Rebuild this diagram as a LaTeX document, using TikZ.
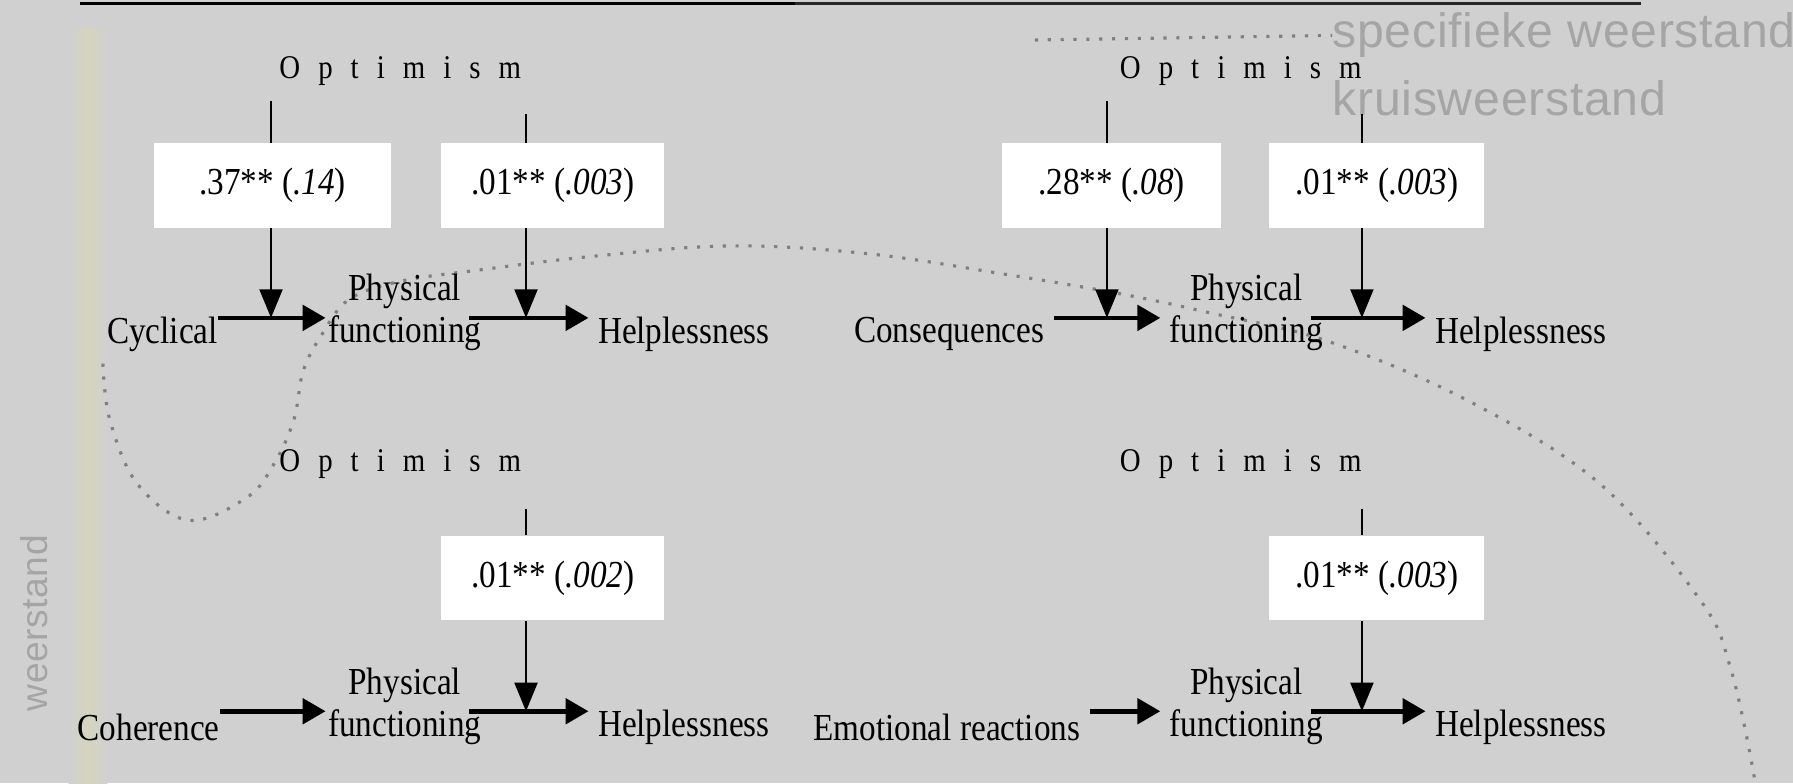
\documentclass[tikz,border=0pt]{standalone}
\usepackage{amsmath}
\usepackage{fontspec}
\setmainfont{Liberation Serif}[FakeStretch = 0.87]
\newfontfamily\spacedserif{Liberation Serif}[FakeStretch = 0.87, WordSpace = 2.5]
\newfontfamily\slidesans{Liberation Sans}[LetterSpace = 1.5]
\usepackage{tikz}
\usetikzlibrary{arrows.meta}

\definecolor{slidegray}{RGB}{208,208,208}
\definecolor{barcolor}{RGB}{212,212,190}
\definecolor{dotgray}{RGB}{128,128,128}
\definecolor{faintgray}{RGB}{165,165,165}

\begin{document}
\begin{tikzpicture}[x = 0.02cm, y = -0.02cm,
        txt/.style = {font = {\fontsize{19}{21}\selectfont}, black, inner sep = 0pt, align = center},
        opt/.style = {font = {\spacedserif\fontsize{16.5}{18}\selectfont}, black, inner sep = 0pt},
        coef/.style = {fill = white, inner sep = 0pt, minimum height = 1.48cm, font = {\fontsize{19}{21}\selectfont}},
        flow/.style = {line width = 0.08cm, -{Triangle[length = 0.4cm, width = 0.44cm]}, shorten <= 0.16cm, shorten >= 0.16cm},
        modline/.style = {line width = 0.045cm},
        modarrow/.style = {line width = 0.045cm, -{Triangle[length = 0.5cm, width = 0.4cm]}},
        dots/.style = {dotgray, line width = 0.055cm, dash pattern = on 0.055cm off 0.17cm},
        faint/.style = {font = {\slidesans\fontsize{24}{26}\selectfont}, text = faintgray, inner sep = 0pt}]
        \useasboundingbox (0, 0) rectangle (1568, 685);
        \fill[slidegray] (0, 0) rectangle (1568, 685);
        \shade[left color = slidegray, right color = slidegray, middle color = barcolor] (60, 25) rectangle (94, 685);
        \draw[line width = 0.06cm] (70, 3) -- (695, 3);
        \draw[line width = 0.04cm, black!85] (695, 3) -- (1435, 3);

        \node[faint, anchor = west] (spec) at (1165, 31) {specifieke weerstand};
        \node[faint, anchor = west] (kruis) at (1165, 86) {kruisweerstand};
        \node[faint, rotate = 90, font = {\slidesans\fontsize{18.5}{20}\selectfont}] (weer) at (30, 545) {weerstand};
        \draw[dots] (905, 35) -- (spec.west);
        \draw[dots] plot[smooth, tension = 0.6] coordinates {(90, 318) (96, 367) (120, 423) (165, 455) (216, 435) (240, 405) (257, 367) (265, 325) (280, 295) (305, 262) (350, 246) (420, 236) (520, 224) (640, 215) (760, 222) (880, 240) (980, 257) (1060, 274) (1160, 298) (1283, 350) (1399, 423) (1487, 525) (1513, 583) (1533, 673) (1535, 700)};

        \node[opt] (opt1) at (350, 62) {O p t i m i s m};
        \node[opt] (opt2) at (1085, 62) {O p t i m i s m};
        \node[opt] (opt3) at (350, 406) {O p t i m i s m};
        \node[opt] (opt4) at (1085, 406) {O p t i m i s m};

        \node[txt] (cyc) at (142, 292) {Cyclical};
        \node[txt] (pf1) at (354, 273.5) {Physical\\functioning};
        \node[txt] (help1) at (598, 292) {Helplessness};
        \node[txt] (cons) at (830, 292) {Consequences};
        \node[txt] (pf2) at (1090, 273.5) {Physical\\functioning};
        \node[txt] (help2) at (1330, 292) {Helplessness};
        \node[txt] (coh) at (130, 636) {Coherence};
        \node[txt] (pf3) at (354, 617.5) {Physical\\functioning};
        \node[txt] (help3) at (598, 636) {Helplessness};
        \node[txt] (emo) at (828, 636) {Emotional reactions};
        \node[txt] (pf4) at (1090, 617.5) {Physical\\functioning};
        \node[txt] (help4) at (1330, 636) {Helplessness};

        \node[coef, minimum width = 4.14cm] (b1) at (238.5, 162) {.37** (\textit{.14})};
        \node[coef, minimum width = 3.9cm] (b2) at (483.5, 162) {.01** (\textit{.003})};
        \node[coef, minimum width = 3.84cm] (b3) at (972, 162) {.28** (\textit{.08})};
        \node[coef, minimum width = 3.76cm] (b4) at (1204, 162) {.01** (\textit{.003})};
        \node[coef, minimum width = 3.9cm] (b5) at (483.5, 505.5) {.01** (\textit{.002})};
        \node[coef, minimum width = 3.76cm] (b6) at (1204, 505.5) {.01** (\textit{.003})};

        \coordinate (s1) at (237, 88);
        \coordinate (s2) at (460, 100);
        \coordinate (s3) at (968, 88);
        \coordinate (s4) at (1191, 100);
        \coordinate (s5) at (460, 445);
        \coordinate (s6) at (1191, 445);
        \coordinate (j1) at (237, 278);
        \coordinate (j2) at (460, 278);
        \coordinate (j3) at (968, 278);
        \coordinate (j4) at (1191, 278);
        \coordinate (j5) at (460, 622);
        \coordinate (j6) at (1191, 622);

        \draw[modline] (s1) -- (s1 |- b1.north);
        \draw[modarrow] (s1 |- b1.south) -- (j1);
        \draw[modline] (s2) -- (s2 |- b2.north);
        \draw[modarrow] (s2 |- b2.south) -- (j2);
        \draw[modline] (s3) -- (s3 |- b3.north);
        \draw[modarrow] (s3 |- b3.south) -- (j3);
        \draw[modline] (s4) -- (s4 |- b4.north);
        \draw[modarrow] (s4 |- b4.south) -- (j4);
        \draw[modline] (s5) -- (s5 |- b5.north);
        \draw[modarrow] (s5 |- b5.south) -- (j5);
        \draw[modline] (s6) -- (s6 |- b6.north);
        \draw[modarrow] (s6 |- b6.south) -- (j6);

        \draw[flow, shorten <= 0pt, shorten >= 0.04cm] (cyc.east |- j1) -- (pf1.west |- j1);
        \draw[flow, shorten <= -0.22cm] (pf1.east |- j2) -- (help1.west |- j2);
        \draw[flow] (cons.east |- j3) -- (pf2.west |- j3);
        \draw[flow, shorten <= -0.22cm] (pf2.east |- j4) -- (help2.west |- j4);
        \draw[flow, shorten <= 0pt, shorten >= 0.04cm] (coh.east |- j5) -- (pf3.west |- j5);
        \draw[flow, shorten <= -0.22cm] (pf3.east |- j5) -- (help3.west |- j5);
        \draw[flow] (emo.east |- j6) -- (pf4.west |- j6);
        \draw[flow, shorten <= -0.22cm] (pf4.east |- j6) -- (help4.west |- j6);
    \end{tikzpicture}
\end{document}
